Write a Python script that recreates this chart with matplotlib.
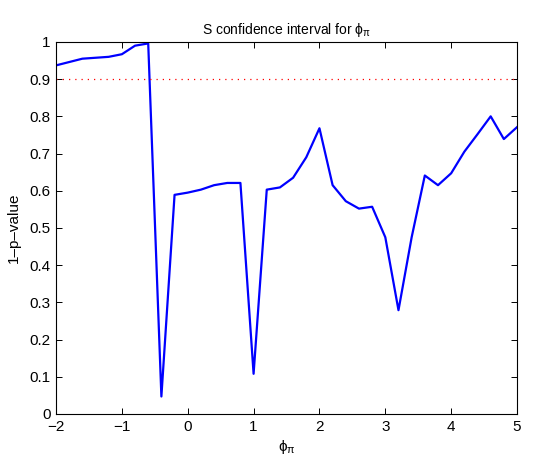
import matplotlib
matplotlib.use("Agg")
import matplotlib.pyplot as plt
import numpy as np

plt.rcParams["font.family"] = ["Liberation Sans", "DejaVu Sans"]
plt.rcParams["mathtext.fontset"] = "custom"
plt.rcParams["mathtext.rm"] = "Liberation Sans"
plt.rcParams["mathtext.it"] = "Liberation Sans"

# grid of phi_pi values and the 1 - p-value
phi_pi = [-2.0, -1.6, -1.2, -1.0, -0.8, -0.6, -0.4, -0.2, 0.0, 0.2, 0.4, 0.6,
          0.8, 1.0, 1.2, 1.4, 1.6, 1.8, 2.0, 2.2, 2.4, 2.6, 2.8, 3.0, 3.2,
          3.4, 3.6, 3.8, 4.0, 4.2, 4.4, 4.6, 4.8, 5.0]
one_minus_p = [0.937, 0.955, 0.960, 0.967, 0.990, 0.996, 0.047, 0.589, 0.595,
               0.603, 0.615, 0.621, 0.621, 0.108, 0.603, 0.609, 0.635, 0.690,
               0.768, 0.615, 0.572, 0.552, 0.557, 0.475, 0.279, 0.475, 0.641,
               0.615, 0.647, 0.705, 0.752, 0.800, 0.739, 0.771]
conf_level = 0.9

x_ticks = [-2, -1, 0, 1, 2, 3, 4, 5]
y_ticks = [0, 0.1, 0.2, 0.3, 0.4, 0.5, 0.6, 0.7, 0.8, 0.9, 1]
y_tick_labels = ["0", "0.1", "0.2", "0.3", "0.4", "0.5", "0.6", "0.7", "0.8", "0.9", "1"]

fig = plt.figure(figsize=(5.36, 4.61), dpi=100)
ax = fig.add_axes([0.1045, 0.102, 0.8601, 0.807])

ax.plot(phi_pi, one_minus_p, color="#0000ff", linewidth=1.6)
ax.axhline(conf_level, color="#ff0000", linestyle=(0, (1, 4)), linewidth=0.9)

ax.set_xlim(-2, 5)
ax.set_ylim(0, 1)
ax.set_xticks(x_ticks)
ax.set_xticklabels(["\u22122", "\u22121", "0", "1", "2", "3", "4", "5"])
ax.set_yticks(y_ticks)
ax.set_yticklabels(y_tick_labels)
ax.tick_params(direction="in", top=True, right=True, length=4, width=0.7,
               labelsize=11, pad=4)
for spine in ax.spines.values():
    spine.set_linewidth(0.8)

ax.set_xlabel(r"$\phi_\pi$", fontsize=11, labelpad=3)
ax.set_ylabel("1\u2013p\u2013value", fontsize=11, labelpad=6)
ax.set_title(r"S confidence interval for $\phi_\pi$", fontsize=10, pad=6)

fig.savefig("out.png", dpi=100)
